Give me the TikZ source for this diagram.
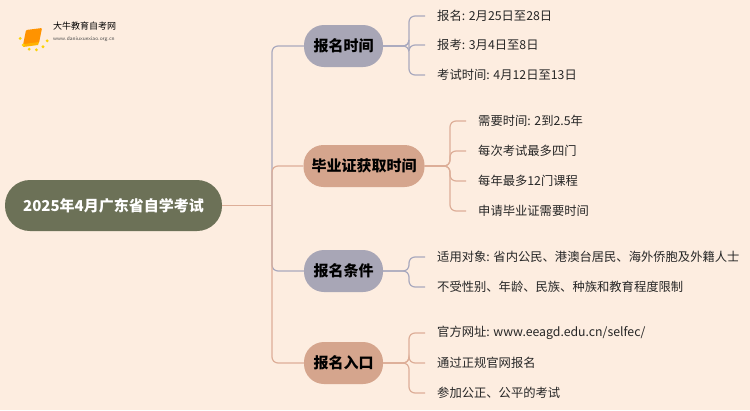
\documentclass[tikz,border=0pt]{standalone}
\usepackage{fontspec}
\newfontfamily\cjk{Noto Sans CJK SC}
\definecolor{bg}{HTML}{FDEDE0}
\definecolor{root}{HTML}{6C7157}
\definecolor{lav}{HTML}{A8A6B6}
\definecolor{sal}{HTML}{D5A58D}
\definecolor{lavl}{HTML}{A9A9BE}
\definecolor{sall}{HTML}{DDAE98}
\begin{document}
\begin{tikzpicture}[x=1pt,y=-1pt,font=\cjk,
 br/.style={rounded corners=20pt,minimum height=42pt,inner xsep=8pt,font=\cjk\bfseries\fontsize{15}{17}\selectfont,text=black},
 lf/.style={anchor=west,font=\cjk\fontsize{12.3}{14}\selectfont,text=black!85,inner sep=0pt},
 cn/.style={line width=1.2pt,rounded corners=6pt}]
\fill[bg] (0,0) rectangle (750,410);
\useasboundingbox (0,0) rectangle (750,410);
% logo
\fill[orange!85!yellow,rounded corners=1pt] (26,30) -- (42,28) -- (39,43) -- (23,45) -- cycle;
\fill[orange!60!yellow] (24,44) -- (39,42) -- (38,45) -- (23,47) -- cycle;
\foreach \a in {110,140,170,200,230,260} \fill[yellow!70!orange] (34,36)+(\a-90:14) circle (1.6pt);
\node[anchor=west,inner sep=0pt,font=\cjk\fontsize{9}{10}\selectfont] (lt) at (53,26) {大牛教育自考网};
\node[anchor=west,inner sep=0pt,font=\sffamily\fontsize{5.5}{6}\selectfont,text=black!70] (lu) at (53,39) {www.daniuxuexiao.org.cn};
% root
\node[fill=root,rounded corners=25pt,minimum width=217pt,minimum height=51pt,text=white,font=\cjk\bfseries\fontsize{15}{17}\selectfont] (r) at (113.5,205.5) {2025年4月广东省自学考试};
\node[br,fill=lav,minimum width=79pt] (b1) at (343.5,46) {报名时间};
\node[br,fill=sal,minimum width=118pt] (b2) at (364,166) {毕业证获取时间};
\node[br,fill=lav,minimum width=79pt] (b3) at (343.5,271) {报名条件};
\node[br,fill=sal,minimum width=79pt] (b4) at (343.5,363) {报名入口};
\coordinate (rj) at (272,205.5);
\draw[cn,sall] (r.east) -- (rj);
\draw[cn,lavl] (rj) -- (272,46) -- (b1.west);
\draw[cn,sall] (rj) -- (272,166) -- (b2.west);
\draw[cn,lavl] (rj) -- (272,271) -- (b3.west);
\draw[cn,sall] (rj) -- (272,363) -- (b4.west);
% leaves
\foreach \y/\t [count=\i] in {16/{报名: 2月25日至28日},45/{报考: 3月4日至8日},75/{考试时间: 4月12日至13日}}{
  \node[lf] (l1\i) at (437,\y) {\t};
  \draw[cn,lavl] (b1.east) -- (409,46) -- (409,\y) -- (425,\y);}
\foreach \y/\t [count=\i] in {121/{需要时间: 2到2.5年},151/{每次考试最多四门},181/{每年最多12门课程},211/{申请毕业证需要时间}}{
  \node[lf] (l2\i) at (478,\y) {\t};
  \draw[cn,sall] (b2.east) -- (450,166) -- (450,\y) -- (466,\y);}
\foreach \y/\t [count=\i] in {257/{适用对象: 省内公民、港澳台居民、海外侨胞及外籍人士},287/{不受性别、年龄、民族、种族和教育程度限制}}{
  \node[lf] (l3\i) at (437,\y) {\t};
  \draw[cn,lavl] (b3.east) -- (409,271) -- (409,\y) -- (425,\y);}
\foreach \y/\t [count=\i] in {333/{官方网址: www.eeagd.edu.cn/selfec/},363/{通过正规官网报名},393/{参加公正、公平的考试}}{
  \node[lf] (l4\i) at (437,\y) {\t};
  \draw[cn,sall] (b4.east) -- (409,363) -- (409,\y) -- (425,\y);}
\end{tikzpicture}
\end{document}
